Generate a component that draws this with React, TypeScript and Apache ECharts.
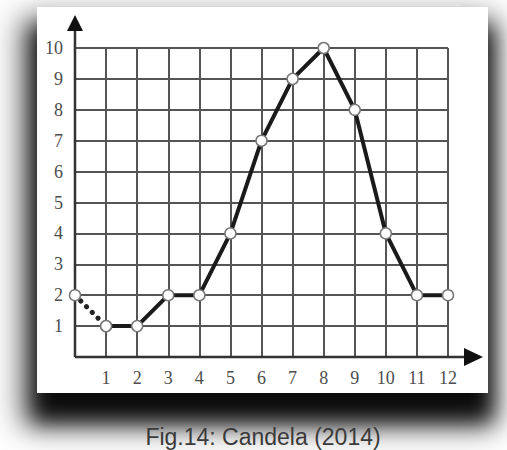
import React, { useEffect, useRef } from "react";
import * as echarts from "echarts";

const xValues = [0, 1, 2, 3, 4, 5, 6, 7, 8, 9, 10, 11, 12];
const yValues = [2, 1, 1, 2, 2, 4, 7, 9, 10, 8, 4, 2, 2];
const dottedCount = 2; // first segment (0 -> 1) is dotted
const caption = "Fig.14: Candela (2014)";

const GRID_LEFT = 75;
const GRID_TOP = 48;
const GRID_W = 373;
const GRID_H = 309;

export default function App() {
  const ref = useRef<HTMLDivElement>(null);
  useEffect(() => {
    if (!ref.current) return;
    const chart = echarts.init(ref.current, null, { renderer: "svg" });
    const pts = xValues.map((x, i) => [x, yValues[i]]);
    const ox = GRID_LEFT;
    const oy = GRID_TOP + GRID_H;
    const axisColor = "#555";
    const labelStyle = {
      fontFamily: "Liberation Serif",
      fontSize: 18,
      color: "#4d4d4d",
    };
    chart.setOption({
      animation: false,
      backgroundColor: "transparent",
      grid: { left: GRID_LEFT, top: GRID_TOP, width: GRID_W, height: GRID_H },
      xAxis: {
        type: "value",
        min: 0,
        max: 12,
        interval: 1,
        axisLine: { show: false },
        axisTick: { show: false },
        splitLine: { show: true, lineStyle: { color: axisColor, width: 2 } },
        axisLabel: {
          ...labelStyle,
          margin: 12,
          formatter: (v: number) => (v === 0 ? "" : String(v)),
        },
      },
      yAxis: {
        type: "value",
        min: 0,
        max: 10,
        interval: 1,
        axisLine: { show: false },
        axisTick: { show: false },
        splitLine: { show: true, lineStyle: { color: axisColor, width: 2 } },
        axisLabel: {
          ...labelStyle,
          margin: 12,
          formatter: (v: number) => (v === 0 ? "" : String(v)),
        },
      },
      graphic: [
        {
          type: "rect",
          z: -100,
          shape: { x: 55, y: 2, width: 405, height: 4 },
          style: { fill: "#e2e2e2" },
          silent: true,
        },
        {
          type: "line",
          z: 1,
          shape: { x1: ox, y1: oy, x2: ox, y2: 28 },
          style: { stroke: "#333", lineWidth: 2.5 },
          silent: true,
        },
        {
          type: "polygon",
          z: 1,
          shape: { points: [[ox - 8, 31], [ox + 8, 31], [ox, 15]] },
          style: { fill: "#111" },
          silent: true,
        },
        {
          type: "line",
          z: 1,
          shape: { x1: ox, y1: oy, x2: 468, y2: oy },
          style: { stroke: "#333", lineWidth: 2.5 },
          silent: true,
        },
        {
          type: "polygon",
          z: 1,
          shape: { points: [[464, oy - 9], [464, oy + 9], [483, oy]] },
          style: { fill: "#111" },
          silent: true,
        },
        {
          type: "text",
          z: 1,
          x: 263,
          y: 437,
          style: {
            text: caption,
            fontFamily: "Liberation Sans",
            fontSize: 23,
            fill: "#3a3a3a",
            textAlign: "center",
            textVerticalAlign: "middle",
          },
        },
      ],
      series: [
        {
          type: "line",
          data: pts.slice(0, dottedCount),
          z: 3,
          lineStyle: { color: "#222", width: 5, type: [0.1, 8], cap: "round" },
          symbol: "circle",
          symbolSize: 11,
          itemStyle: { color: "#fff", borderColor: "#777", borderWidth: 1.5 },
        },
        {
          type: "line",
          data: pts.slice(dottedCount - 1),
          z: 4,
          lineStyle: { color: "#1a1a1a", width: 4 },
          symbol: "circle",
          symbolSize: 11,
          itemStyle: { color: "#fff", borderColor: "#777", borderWidth: 1.5 },
        },
      ],
    });
    return () => chart.dispose();
  }, []);
  return (
    <div
      style={{
        position: "absolute",
        left: 0,
        top: 0,
        width: 507,
        height: 450,
        overflow: "hidden",
        background: "#fff",
      }}
    >
      <div
        style={{
          position: "absolute",
          left: 37,
          top: 7,
          width: 451,
          height: 386,
          background: "#fff",
          boxShadow:
            "-4px 22px 30px 12px rgba(0,0,0,0.55), 0 24px 20px 4px rgba(0,0,0,0.9)",
        }}
      />
      <div
        ref={ref}
        style={{ position: "absolute", left: 0, top: 0, width: 507, height: 450 }}
      />
    </div>
  );
}
